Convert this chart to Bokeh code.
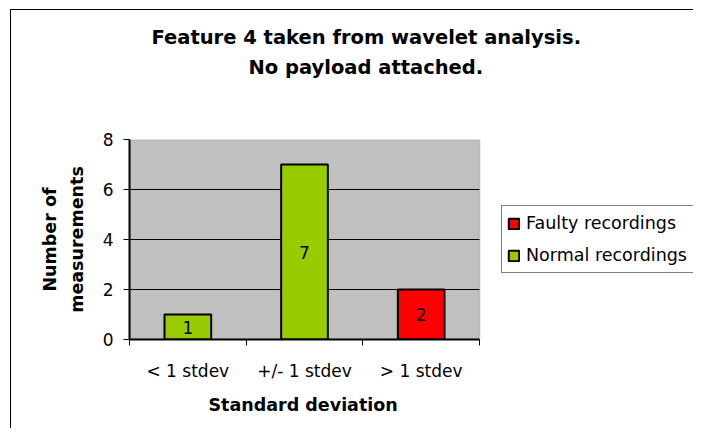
from bokeh.plotting import figure
from bokeh.models import (Range1d, FixedTicker, Legend, LegendItem, Title,
                          BoxAnnotation, ColumnDataSource, InlineStyleSheet)
from bokeh.embed import file_html
from bokeh.resources import INLINE
from bokeh.core.properties import value

# ---------------- data ----------------
title_lines = ["Feature 4 taken from wavelet analysis.", "No payload attached."]
categories = ["< 1 stdev", "+/- 1 stdev", "> 1 stdev"]
normal_counts = [1, 7, 0]
faulty_counts = [0, 0, 2]
y_ticks = [0, 2, 4, 6, 8]
grid_ticks = [2, 4, 6]
x_title = "Standard deviation"
y_title_lines = ["Number of", "measurements"]
series_names = ["Faulty recordings", "Normal recordings"]

FONT = "DejaVu Sans"
GREEN = "#99CC00"
RED = "#FF0000"
W, H = 693, 428
LEFT, TOP, BOTTOM = 129, 139, 89
PLOT_W = 350                      # pixel width of the grey plot area
FRAME_W = W - LEFT                # frame runs to the right edge (room for the legend)
n = len(categories)
y_lo, y_hi = min(y_ticks), max(y_ticks)

p = figure(width=W, height=H, output_backend="svg", toolbar_location=None,
           x_range=Range1d(0, n * FRAME_W / PLOT_W), y_range=Range1d(y_lo, y_hi),
           min_border_left=LEFT, min_border_right=0, min_border_top=TOP,
           min_border_bottom=BOTTOM)

p.background_fill_color = "white"
p.border_fill_color = "white"
p.outline_line_color = None
p.grid.visible = False

# grey plot area with its grey border
p.add_layout(BoxAnnotation(left=0, right=n, bottom=y_lo, top=y_hi, level="image",
                           fill_color="#C0C0C0", fill_alpha=1,
                           line_color="#808080", line_width=2))

# horizontal grid lines across the plot area
p.segment(x0=[0] * len(grid_ticks), x1=[n] * len(grid_ticks), y0=grid_ticks,
          y1=grid_ticks, line_color="black", line_width=1)

# y axis
p.yaxis.ticker = FixedTicker(ticks=y_ticks)
p.yaxis.axis_line_color = "black"
p.yaxis.axis_line_width = 2
p.yaxis.major_tick_in = 0
p.yaxis.major_tick_out = 6
p.yaxis.major_tick_line_color = "black"
p.yaxis.major_tick_line_width = 1
p.yaxis.minor_tick_line_color = None
p.yaxis.major_label_standoff = 10
p.yaxis.major_label_text_font = FONT
p.yaxis.major_label_text_font_size = "17px"
p.yaxis.major_label_text_color = "black"
p.yaxis.axis_label = "\n".join(y_title_lines)
p.yaxis.axis_label_text_font = FONT
p.yaxis.axis_label_text_font_style = "bold"
p.yaxis.axis_label_text_font_size = "17.5px"
p.yaxis.axis_label_text_color = "black"
p.yaxis.axis_label_text_line_height = 1.35
p.yaxis.axis_label_standoff = 13

# x axis: labels at category centres, tick marks at category boundaries
centers = [i + 0.5 for i in range(n)]
bounds = [i for i in range(n + 1)]
p.xaxis.ticker = FixedTicker(ticks=centers, minor_ticks=bounds)
p.xaxis.bounds = (0, n)
p.xaxis.major_label_overrides = {c: lab for c, lab in zip(centers, categories)}
p.xaxis.axis_line_color = "black"
p.xaxis.axis_line_width = 2
p.xaxis.major_tick_line_color = None
p.xaxis.minor_tick_in = 0
p.xaxis.minor_tick_out = 6
p.xaxis.minor_tick_line_color = "black"
p.xaxis.minor_tick_line_width = 1
p.xaxis.major_label_standoff = 15
p.xaxis.major_label_text_font = FONT
p.xaxis.major_label_text_font_size = "17px"
p.xaxis.major_label_text_color = "black"

# x-axis title, below the axis
p.add_layout(Title(text=x_title, align="left", offset=79, standoff=22,
                   vertical_align="top", text_font=FONT, text_font_style="bold",
                   text_font_size="17.5px", text_color="black"), "below")

# bars
nx = [c for c, v in zip(centers, normal_counts) if v > 0]
nv = [v for v in normal_counts if v > 0]
fx = [c for c, v in zip(centers, faulty_counts) if v > 0]
fv = [v for v in faulty_counts if v > 0]

src_n = ColumnDataSource(dict(x=nx, top=nv, mid=[v / 2 for v in nv], lab=[str(v) for v in nv]))
src_f = ColumnDataSource(dict(x=fx, top=fv, mid=[v / 2 for v in fv], lab=[str(v) for v in fv]))

r_n = p.vbar(x="x", top="top", bottom=0, width=0.4, source=src_n,
             fill_color=GREEN, line_color="black", line_width=2)
r_f = p.vbar(x="x", top="top", bottom=0, width=0.4, source=src_f,
             fill_color=RED, line_color="black", line_width=2)

for src in (src_n, src_f):
    p.text(x="x", y="mid", text="lab", source=src, text_align="center",
           text_baseline="middle", text_font=value(FONT), text_font_size="17px",
           text_color="black")

# legend, right of the plot area (its right edge runs off the picture)
legend = Legend(items=[LegendItem(label=series_names[0], renderers=[r_f]),
                       LegendItem(label=series_names[1], renderers=[r_n])],
                location=(PLOT_W + 22, 66))
legend.border_line_color = "black"
legend.border_line_width = 1
legend.background_fill_color = "white"
legend.background_fill_alpha = 1
legend.padding = 5
legend.margin = 0
legend.spacing = 8
legend.label_height = 24
legend.glyph_height = 13
legend.glyph_width = 13
legend.label_standoff = 6
legend.label_width = 190
legend.label_text_font = FONT
legend.label_text_font_size = "17.5px"
legend.label_text_color = "black"
p.add_layout(legend)

# above panel: spacer nearest the frame, then the two title lines
p.add_layout(Title(text=" ", text_font_size="19.5px", standoff=32), "above")
p.add_layout(Title(text=title_lines[1], align="left", offset=119, standoff=10,
                   text_font=FONT, text_font_style="bold", text_font_size="19.5px",
                   text_color="black"), "above")
p.add_layout(Title(text=title_lines[0], align="left", offset=22, standoff=0,
                   text_font=FONT, text_font_style="bold", text_font_size="19.5px",
                   text_color="black"), "above")

# outer chart-area border: only its top and left edges fall inside the picture
p.stylesheets = [InlineStyleSheet(css=(
    ":host { position: relative; }"
    ":host::before { content: ''; position: absolute; left: 10px; top: 9px; right: 0;"
    " height: 0; border-top: 1.5px solid #000; pointer-events: none; z-index: 5; }"
    ":host::after { content: ''; position: absolute; left: 10px; top: 9px; bottom: 0;"
    " width: 0; border-left: 1.5px solid #000; pointer-events: none; z-index: 5; }"))]

open("out.html", "w").write(file_html(p, INLINE))
